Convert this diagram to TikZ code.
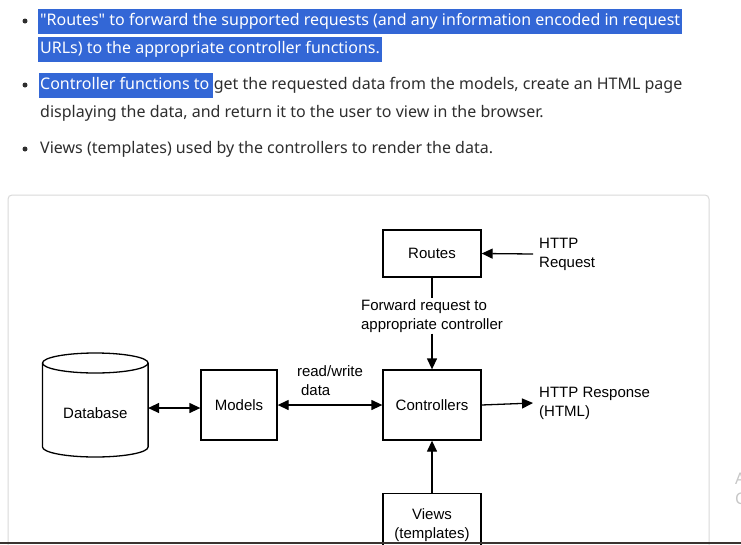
\documentclass[tikz,border=0pt]{standalone}
\usepackage{fontspec}
\setmainfont{Liberation Sans}
\newfontfamily\pagefont{Noto Sans}
\usetikzlibrary{arrows.meta}

\definecolor{hlblue}{HTML}{3367D6}
\definecolor{bodytext}{HTML}{2E2E2E}
\definecolor{cardline}{HTML}{DADADA}
\definecolor{barcol}{HTML}{3A3330}

\begin{document}
\begin{tikzpicture}[x=1pt, y=-1pt,
    box/.style={draw, line width=1.3pt, minimum width=98pt, minimum height=70pt,
      font=\fontsize{15}{19}\selectfont, align=center},
    lbl/.style={font=\fontsize{15}{19}\selectfont, align=left, inner sep=1pt},
    arr/.style={line width=1.3pt, -{Triangle[length=11pt,width=10pt]}},
    both/.style={line width=1.3pt, {Triangle[length=11pt,width=10pt]}-{Triangle[length=11pt,width=10pt]}},
    txt/.style={font=\pagefont\fontsize{16}{18}\selectfont, text=bodytext,
      anchor=base west, inner sep=0pt},
    hl/.style={txt, fill=hlblue, text=white, inner xsep=2pt,
      text height=12pt, text depth=4pt, inner ysep=4.5pt},
    dot/.style={circle, fill=bodytext, inner sep=0pt, minimum size=5pt}]
      \useasboundingbox (0,0) rectangle (741,544);
      \fill[white] (0,0) rectangle (741,544);

      % bullet list above the card
      \node[dot] (b1) at (25,21) {};
      \node[dot] (b2) at (25,85) {};
      \node[dot] (b3) at (25,149) {};
      \node[hl] (r1) at (38,25.5) {"Routes" to forward the supported requests (and any information encoded in request};
      \node[hl] (r2) at (38,53) {URLs) to the appropriate controller functions.};
      \node[hl, inner xsep=1pt] (c1) at (39,89.5) {Controller functions to\kern3pt};
      \node[txt] (c2) at (c1.base east) {get the requested data from the models, create an HTML page};
      \node[txt] (c3) at (40,117) {displaying the data, and return it to the user to view in the browser.};
      \node[txt] (v1) at (40,153.5) {Views (templates) used by the controllers to render the data.};

      % card
      \draw[cardline, line width=1pt, rounded corners=4pt] (8,195) rectangle (709,570);

      % boxes
      \node[box, minimum height=47pt] (routes) at (432,253.5) {Routes};
      \node[box] (ctrl) at (432,405) {Controllers};
      \node[box, minimum width=76pt] (models) at (239,405) {Models};
      \node[box, minimum height=63pt] (views) at (432,525) {Views\\(templates)};

      % database cylinder
      \draw[line width=1.3pt] (95.3,363) ellipse [x radius=52.8, y radius=10];
      \draw[line width=1.3pt] (42.5,363) -- (42.5,447)
        arc[start angle=180, end angle=0, x radius=52.8, y radius=10] -- (148.1,363);
      \node[lbl] (db) at (95.3,413) {Database};
      \coordinate (dbr) at (148.1,408);

      % labels
      \node[lbl, anchor=west, inner sep=0pt] (req) at (539,254) {HTTP\\Request};
      \node[lbl, anchor=west, inner sep=0pt] (resp) at (539,403) {HTTP Response\\(HTML)};
      \node[lbl] (fwd) at (432,316) {Forward request to\\appropriate controller};
      \node[lbl] (rw) at (330,381) {read/write\\\hspace{4pt}data};

      % connectors
      \draw[arr] ([xshift=-6pt]req.west) -- (routes.east);
      \draw[line width=1.3pt] (routes) -- (fwd);
      \draw[arr] (fwd) -- (ctrl);
      \draw[both] (dbr) -- (models.west |- dbr);
      \draw[both] (models.east) -- (ctrl.west);
      \draw[arr] (ctrl.east) -- ([xshift=-6pt]resp.west);
      \draw[arr] (views) -- (ctrl);

      % page edge
      \fill[barcol] (0,541.5) rectangle (741,544);
      \node[txt, text=black!22] (sa) at (735,484) {A};
      \node[txt, text=black!22] (sc) at (735,504) {C};
    \end{tikzpicture}
\end{document}
